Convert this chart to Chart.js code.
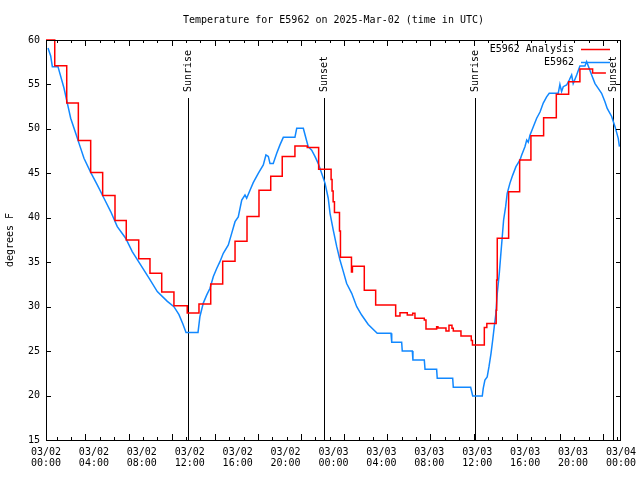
<!DOCTYPE html>
<html>
<head>
<meta charset="utf-8">
<script src="https://cdn.jsdelivr.net/npm/chart.js@4.4.1/dist/chart.umd.min.js"></script>
<style>
  html, body { margin: 0; padding: 0; background: #fff; }
</style>
</head>
<body>
<canvas id="chart" width="640" height="480"></canvas>
<script>
// hours since 03/02 00:00 UTC
const dateLabels = ["03/02","03/02","03/02","03/02","03/02","03/02","03/03","03/03","03/03","03/03","03/03","03/03","03/04"]
const timeLabels = ["00:00","04:00","08:00","12:00","16:00","20:00","00:00","04:00","08:00","12:00","16:00","20:00","00:00"]
const yTicks = [15,20,25,30,35,40,45,50,55,60]

// E5962 Analysis (red, stepped: value starts at given hour)
const analysisHours = [0,0.73,1.73,2.7,3.73,4.73,5.76,6.7,7.74,8.68,9.66,10.68,11.79,12.77,13.75,14.75,15.78,16.78,17.78,18.76,19.72,20.78,21.81,22.76,
  23.8,23.88,23.97,24.08,24.5,24.58,25.5,25.58,26.57,27.52,29.19,29.55,30.16,30.61,30.8,31.58,31.72,32.61,32.72,33.39,33.64,33.89,34.0,34.64,35.5,35.6,
  36.59,36.8,37.58,37.62,37.67,38.62,39.54,40.48,41.54,42.6,43.63,44.57,45.63,46.74]
const analysisTemps = [60,57.1,52.9,48.7,45.1,42.5,39.7,37.5,35.4,33.75,31.65,30.1,29.3,30.3,32.55,35.1,37.35,40.15,43.1,44.67,46.9,48.08,47.9,45.45,
  44.3,43.0,41.8,40.6,38.5,35.55,33.9,34.55,31.84,30.2,28.95,29.32,29.06,29.25,28.7,28.5,27.5,27.75,27.6,27.26,27.9,27.56,27.26,26.7,26.2,25.7,
  27.65,28.1,29.6,33.0,37.7,42.93,46.5,49.24,51.26,53.9,55.3,56.74,56.3,56.3]

// E5962 observations (blue)
const obsHours = [0.17,0.39,0.53,1.0,1.5,1.78,2.06,2.48,2.75,3.17,3.73,4.28,4.84,5.4,5.95,6.65,7.2,7.9,8.6,9.29,10.13,10.68,11.1,11.41,11.69,12.69,
  12.85,13.13,13.41,13.69,13.97,14.25,14.52,14.8,15.22,15.5,15.78,16.05,16.34,16.61,16.75,17.03,17.3,17.72,18.14,18.36,18.56,18.7,18.97,19.26,19.53,19.81,
  20.78,20.93,21.48,21.7,21.89,22.18,22.45,22.73,23.01,23.29,23.56,23.71,23.98,24.27,24.54,24.82,25.1,25.52,25.94,26.35,26.9,27.65,28.8,28.86,29.69,
  29.74,30.58,30.63,31.58,31.64,32.61,32.66,33.95,34.0,35.45,35.62,36.42,36.5,36.64,36.83,36.98,37.15,37.29,37.42,37.56,37.67,37.84,37.95,38.09,38.2,
  38.37,38.5,38.73,38.96,39.23,39.57,39.71,39.98,40.13,40.26,40.4,40.68,40.96,41.24,41.51,41.79,42.01,42.76,42.9,43.04,43.18,43.46,43.68,43.88,44.01,
  44.3,44.57,44.99,45.13,45.35,45.55,45.83,46.1,46.38,46.66,46.85,47.22,47.5,47.77,47.87]
const obsTemps = [59.1,58.2,57.0,57.0,54.6,52.9,51.2,49.5,48.4,46.7,45.1,43.7,42.2,40.7,39.0,37.7,36.2,34.7,33.2,31.7,30.6,30.0,29.1,28.1,27.1,27.1,
  28.9,30.4,31.3,32.07,33.4,34.3,35.06,36.0,36.94,38.25,39.56,40.1,42.0,42.56,42.2,43.1,43.95,45.0,45.94,47.06,46.9,46.1,46.1,47.25,48.2,49.05,
  49.05,50.07,50.07,48.94,48.0,47.6,46.9,46.1,45.0,43.9,42.2,40.5,38.6,36.75,35.25,33.94,32.6,31.5,30.0,29.06,28.0,27.0,27.0,26.0,26.0,
  25.0,25.0,24.0,24.0,22.95,22.95,21.94,21.94,20.93,20.93,19.95,19.95,20.8,21.75,22.1,23.25,24.75,26.25,27.75,29.25,31.5,33.75,35.6,37.9,39.75,
  41.25,42.75,43.9,44.8,45.75,46.5,47.06,48.0,48.75,48.5,49.3,50.25,51.2,51.9,52.9,53.6,54.0,54.0,55.0,54.2,54.75,54.94,55.5,56.06,55.1,
  56.06,57.07,57.07,57.56,56.8,56.06,55.1,54.56,54.0,53.06,52.3,51.4,50.25,48.94,48.0]

const sunHours = [11.85, 23.23, 35.83, 47.3]
const sunLabels = ["Sunrise", "Sunset", "Sunrise", "Sunset"]

const FONT = '10px "DejaVu Sans Mono", monospace'

// gnuplot-like frame, mirrored tics, title, key, sun markers
const decor = {
  id: 'decor',
  beforeDatasetsDraw(chart) {
    const {ctx, chartArea: a, scales: {x}} = chart
    ctx.save()
    ctx.strokeStyle = '#000'
    ctx.fillStyle = '#000'
    ctx.lineWidth = 1
    ctx.font = FONT
    sunHours.forEach((h, i) => {
      const px = Math.round(x.getPixelForValue(h)) + 0.5
      ctx.beginPath()
      ctx.moveTo(px, 98)
      ctx.lineTo(px, a.bottom)
      ctx.stroke()
      ctx.save()
      ctx.translate(px, 92)
      ctx.rotate(-Math.PI / 2)
      ctx.textAlign = 'left'
      ctx.textBaseline = 'middle'
      ctx.fillText(sunLabels[i], 0, 0)
      ctx.restore()
    })
    ctx.restore()
  },
  afterDraw(chart) {
    const {ctx, chartArea: a, scales: {x, y}} = chart
    ctx.save()
    ctx.strokeStyle = '#000'
    ctx.fillStyle = '#000'
    ctx.lineWidth = 1
    // frame
    ctx.strokeRect(a.left + 0.5, a.top + 0.5, a.right - a.left - 1, a.bottom - a.top)
    // x tics (bottom + top)
    ctx.beginPath()
    for (let k = 0; ; k++) {
      const h = 0.89 + 1.2 * k
      if (h > 48) break
      const px = Math.round(x.getPixelForValue(h)) + 0.5
      const len = (k % 3 === 2) ? 6 : 3
      ctx.moveTo(px, a.bottom); ctx.lineTo(px, a.bottom - len)
      ctx.moveTo(px, a.top); ctx.lineTo(px, a.top + len)
    }
    // y tics (left + right)
    yTicks.forEach(v => {
      const py = Math.round(y.getPixelForValue(v)) + 0.5
      ctx.moveTo(a.left, py); ctx.lineTo(a.left + 5, py)
      ctx.moveTo(a.right, py); ctx.lineTo(a.right - 5, py)
    })
    ctx.stroke()

    ctx.font = FONT
    // title
    ctx.textAlign = 'center'
    ctx.textBaseline = 'middle'
    ctx.fillText('Temperature for E5962 on 2025-Mar-02 (time in UTC)', (a.left + a.right) / 2, 20)
    // y title
    ctx.save()
    ctx.translate(10, (a.top + a.bottom) / 2)
    ctx.rotate(-Math.PI / 2)
    ctx.fillText('degrees F', 0, 0)
    ctx.restore()
    // key
    const sets = chart.data.datasets
    ctx.textAlign = 'right'
    sets.forEach((ds, i) => {
      const ky = 49 + i * 13
      ctx.fillStyle = '#000'
      ctx.fillText(ds.label, 574, ky)
      ctx.strokeStyle = ds.borderColor
      ctx.lineWidth = 1.5
      ctx.beginPath()
      ctx.moveTo(581, ky + 0.5)
      ctx.lineTo(610, ky + 0.5)
      ctx.stroke()
    })
    ctx.restore()
  }
}

const ctx = document.getElementById('chart')
const chart = new Chart(ctx, {
  type: 'line',
  data: {
    datasets: [
      {
        label: 'E5962 Analysis',
        data: analysisHours.map((h, i) => ({x: h, y: analysisTemps[i]})),
        borderColor: '#ff0000',
        borderWidth: 1.5,
        stepped: true,
        pointRadius: 0,
        fill: false,
        clip: 3
      },
      {
        label: 'E5962',
        data: obsHours.map((h, i) => ({x: h, y: obsTemps[i]})),
        borderColor: '#1188ff',
        borderWidth: 1.5,
        tension: 0,
        pointRadius: 0,
        fill: false,
        clip: 3
      }
    ]
  },
  options: {
    responsive: false,
    animation: false,
    devicePixelRatio: 1,
    layout: { padding: { left: 0, right: 19, top: 40, bottom: 0 } },
    plugins: {
      legend: { display: false },
      title: { display: false },
      tooltip: { enabled: false }
    },
    scales: {
      x: {
        type: 'linear',
        min: 0,
        max: 48,
        grid: { display: false, drawTicks: false },
        border: { display: false },
        afterBuildTicks: s => { s.ticks = dateLabels.map((d, i) => ({value: i * 4})) },
        afterFit: s => { s.height = 40; s.paddingLeft = 0; s.paddingRight = 0 },
        ticks: {
          autoSkip: false,
          maxRotation: 0,
          padding: 7,
          color: '#000',
          font: { family: '"DejaVu Sans Mono", monospace', size: 10, lineHeight: 1.1 },
          callback: (v, i) => [dateLabels[i], timeLabels[i]]
        }
      },
      y: {
        min: 15,
        max: 60,
        grid: { display: false, drawTicks: false },
        border: { display: false },
        afterBuildTicks: s => { s.ticks = yTicks.map(v => ({value: v})) },
        afterFit: s => { s.width = 46; s.paddingTop = 0; s.paddingBottom = 0 },
        ticks: {
          padding: 6,
          color: '#000',
          font: { family: '"DejaVu Sans Mono", monospace', size: 10 }
        }
      }
    }
  },
  plugins: [decor]
})
</script>
</body>
</html>
